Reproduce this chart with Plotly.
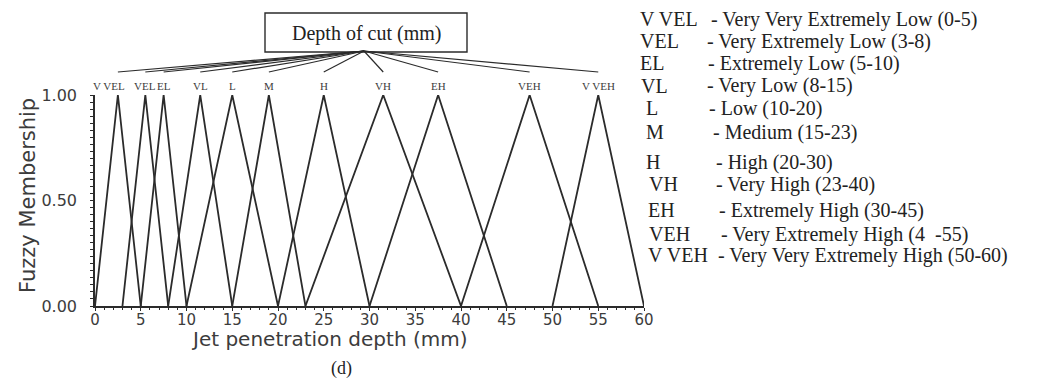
import plotly.graph_objects as go

# ---------------- data ----------------
terms = ["V VEL", "VEL", "EL", "VL", "L", "M", "H", "VH", "EH", "VEH", "V VEH"]
lows = [0, 3, 5, 8, 10, 15, 20, 23, 30, 40, 50]
peaks = [2.5, 5.5, 7.5, 11.5, 15, 19, 25, 31.5, 37.5, 47.5, 55]
highs = [5, 8, 10, 15, 20, 23, 30, 40, 45, 55, 60]
membership_shape = [0, 1, 0]

x_ticks = [0, 5, 10, 15, 20, 25, 30, 35, 40, 45, 50, 55, 60]
y_ticks = [0.0, 0.5, 1.0]

legend_abbr = ["V VEL", "VEL", "EL", "VL", "L", "M", "H", "VH", "EH", "VEH", "V VEH"]
legend_desc = [
    "- Very Very Extremely Low (0-5)",
    "- Very Extremely Low (3-8)",
    "- Extremely Low (5-10)",
    "- Very Low (8-15)",
    "- Low (10-20)",
    "- Medium (15-23)",
    "- High (20-30)",
    "- Very High (23-40)",
    "- Extremely High (30-45)",
    "- Very Extremely High (4  -55)",
    "- Very Very Extremely High (50-60)",
]

box_title = "Depth of cut (mm)"
x_title = "Jet penetration depth (mm)"
y_title = "Fuzzy Membership"
caption = "(d)"

# ---------------- layout geometry ----------------
# the page body has an 8px margin, so the figure is drawn 8px in from the window corner
OFF = 8
W, H = 1050 - OFF, 381 - OFF
# plot area in window pixels: x 95..644, y 95..306
SX0, SX1, SY0, SY1 = 95, 644, 95, 306
L, T = SX0 - OFF, SY0 - OFF
R, B = W - (SX1 - OFF), H - (SY1 - OFF)
PW, PH = SX1 - SX0, SY1 - SY0
X_MIN, X_MAX = 0, 60


def xp(sx):
    return (sx - SX0) / PW


def yp(sy):
    return (SY1 - sy) / PH


def xd(sx):
    return X_MIN + (sx - SX0) / PW * (X_MAX - X_MIN)


LINE = "#2b2b2b"
TXT = "#3c3c3c"
SANS = "DejaVu Sans"
SERIF = "Liberation Serif"

fig = go.Figure()
for name, lo, pk, hi in zip(terms, lows, peaks, highs):
    fig.add_trace(go.Scatter(
        x=[lo, pk, hi], y=membership_shape, mode="lines", name=name,
        line=dict(color=LINE, width=1.8), showlegend=False, hoverinfo="skip"))

annotations = []
shapes = []


def note(text, sx, sy, font, xanchor="center", angle=0, xshift=0, xref="paper", x=None):
    annotations.append(dict(
        x=xp(sx) if x is None else x, xref=xref, y=yp(sy), yref="paper",
        text=text, showarrow=False, xanchor=xanchor, yanchor="middle",
        textangle=angle, xshift=xshift, font=font))


# peak labels
for name, pk in zip(terms, peaks):
    note(name, 0, 86, dict(family=SERIF, size=11, color=TXT),
         xref="x", x=pk, xshift=-9 if name == "V VEL" else 0)

# box with title and fan of connector lines
shapes.append(dict(type="rect", xref="paper", yref="paper",
                   x0=xp(265), x1=xp(467), y0=yp(52), y1=yp(13),
                   line=dict(color=LINE, width=1.4), fillcolor="white"))
note(box_title, 366, 33, dict(family=SERIF, size=20, color="#222"))
apex_x = xd(364)
for pk in peaks:
    shapes.append(dict(type="line", xref="x", yref="paper",
                       x0=apex_x, y0=yp(51), x1=pk, y1=yp(72),
                       line=dict(color=LINE, width=1.2)))

# axis titles and caption
note(x_title, 329, 339, dict(family=SANS, size=20, color=TXT))
note(y_title, 28, 196, dict(family=SANS, size=21, color=TXT), angle=-90)
note(caption, 341, 369, dict(family=SERIF, size=18, color="#222"))

# text legend on the right
legend_y = [19, 41, 63, 86, 108, 132, 162, 184, 210, 234, 255]
abbr_x = [638, 638, 638, 639, 644, 644, 644, 647, 646, 647, 646]
dash_x = [709, 705, 706, 705, 707, 711, 714, 714, 717, 719, 716]
for a, d, y, ax_, dx in zip(legend_abbr, legend_desc, legend_y, abbr_x, dash_x):
    note(a, ax_, y, dict(family=SERIF, size=20, color="#222"), xanchor="left")
    note(d, dx, y, dict(family=SERIF, size=20, color="#222"), xanchor="left")

fig.update_layout(
    width=W, height=H, margin=dict(l=L, r=R, t=T, b=B, pad=0),
    paper_bgcolor="white", plot_bgcolor="white",
    annotations=annotations, shapes=shapes,
    xaxis=dict(range=[X_MIN, X_MAX], tickvals=x_ticks, ticktext=[str(v) for v in x_ticks],
               showline=True, linecolor=LINE, linewidth=1.6, showgrid=False, zeroline=False,
               ticks="outside", ticklen=3, tickcolor=LINE, tickwidth=1.2,
               minor=dict(dtick=1, ticks="outside", ticklen=2, tickcolor=LINE, tickwidth=1),
               ticklabelstandoff=-4,
               tickfont=dict(family=SANS, size=15, color=TXT)),
    yaxis=dict(range=[0, 1], tickvals=y_ticks, ticktext=["%.2f" % v for v in y_ticks],
               showline=True, linecolor=LINE, linewidth=1.6, showgrid=False, zeroline=False,
               ticks="outside", ticklen=3, tickcolor=LINE, tickwidth=1.2,
               minor=dict(dtick=1 / 30, ticks="outside", ticklen=3, tickcolor=LINE, tickwidth=1),
               ticklabelstandoff=10,
               tickfont=dict(family=SANS, size=16, color=TXT)),
)

fig.write_html("out.html")
